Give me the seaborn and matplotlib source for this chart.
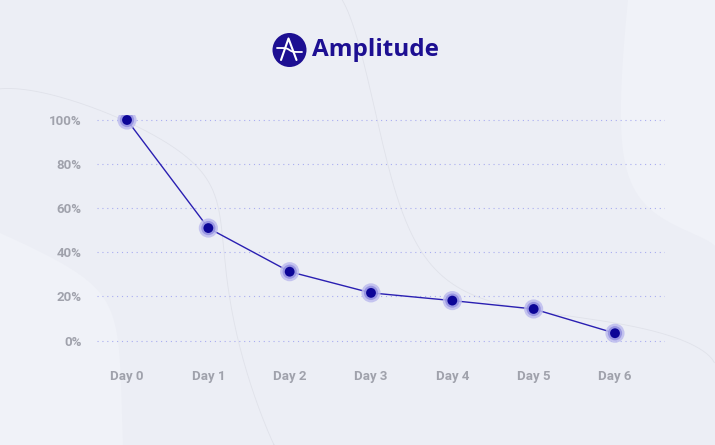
import numpy as np
import pandas as pd
import seaborn as sns
import matplotlib.pyplot as plt
from matplotlib.patches import Circle, Polygon

# retention values
days = ['Day 0', 'Day 1', 'Day 2', 'Day 3', 'Day 4', 'Day 5', 'Day 6']
retention = [100, 51, 31.2, 21.6, 18.1, 14.3, 3.3]
y_ticks = [0, 20, 40, 60, 80, 100]
y_labels = ['0%', '20%', '40%', '60%', '80%', '100%']

BG = '#eceef5'
LIGHT = '#f0f2f8'
NAVY = '#0c0597'
LINE = '#2a1fb2'
GRID = '#a9adf0'
LABEL = '#a0a2ac'
BRAND = '#1d0f92'


def smooth(xs, ys, n=200):
    # smooth curve through a few control points (background decoration only)
    xs, ys = np.asarray(xs, float), np.asarray(ys, float)
    u = np.linspace(0, 1, len(xs))
    uu = np.linspace(0, 1, n)
    cx = np.polyfit(u, xs, min(len(xs) - 1, 5))
    cy = np.polyfit(u, ys, min(len(ys) - 1, 5))
    return np.polyval(cx, uu), np.polyval(cy, uu)


sns.set_theme(style='white')
plt.rcParams['font.family'] = ['Roboto', 'DejaVu Sans']

df = pd.DataFrame({'day': np.arange(len(days)), 'retention': retention})

fig = plt.figure(figsize=(7.15, 4.45), dpi=100)
fig.patch.set_facecolor(BG)

# background decoration in pixel coordinates
bg = fig.add_axes([0, 0, 1, 1], zorder=0)
bg.set_xlim(0, 715)
bg.set_ylim(445, 0)
bg.axis('off')

# lighter lower-left corner
lx, ly = smooth([0, 68, 105, 119, 123], [233, 267, 300, 350, 445])
bg.add_patch(Polygon(np.column_stack([np.r_[0, lx, 0], np.r_[233, ly, 445]]),
                     closed=True, fc=LIGHT, ec='none'))
# lighter upper-right corner
rx, ry = smooth([628, 621, 626, 648, 685, 716], [0, 100, 167, 207, 230, 247])
bg.add_patch(Polygon(np.column_stack([np.r_[rx, 716], np.r_[ry, 0]]),
                     closed=True, fc=LIGHT, ec='none'))
# faint thin curves
ax1, ay1 = smooth([0, 91, 183, 205, 224, 237, 256, 274], [90, 103, 157, 187, 233, 333, 400, 445])
bg.plot(ax1, ay1, color='#e0e2ea', lw=0.6)
cx2, cy2 = smooth([342, 365, 388, 411, 457, 502, 594, 662, 715],
                  [0, 67, 167, 233, 283, 307, 320, 333, 363])
bg.plot(cx2, cy2, color='#e0e2ea', lw=0.6)

# logo
bg.add_patch(Circle((289.5, 50), 17, fc=BRAND, ec='none'))
bg.plot([281, 288.5, 296.5], [60, 38.5, 60], color='white', lw=1.5, solid_capstyle='round')
wx = np.linspace(277, 302, 40)
wy = 50 + 2.0 * np.tanh((wx - 289.5) / 3)
bg.plot(wx, wy, color='white', lw=1.3)
bg.text(312, 50, 'Amplitude', fontsize=17.5, fontweight='bold', color=BRAND,
        ha='left', va='center', family=['Open Sans', 'DejaVu Sans'])

# chart
ax = fig.add_axes([97 / 715, 1 - 345 / 445, (665 - 97) / 715, 230 / 445], zorder=1)
ax.set_facecolor('none')
sns.lineplot(data=df, x='day', y='retention', ax=ax, color=LINE, lw=1.0, zorder=3)
sns.scatterplot(data=df, x='day', y='retention', ax=ax, s=190, color='#bdbcee',
                alpha=0.85, edgecolor='none', zorder=4)
sns.scatterplot(data=df, x='day', y='retention', ax=ax, s=105, color='#8b88de',
                alpha=0.75, edgecolor='none', zorder=5)
sns.scatterplot(data=df, x='day', y='retention', ax=ax, s=50, color=NAVY,
                edgecolor='none', zorder=6)

ax.set_xlim(-0.369, 6.615)
ax.set_ylim(-2.04, 102.27)
ax.set_xticks(range(len(days)), days)
ax.set_yticks(y_ticks, y_labels)
ax.set_xlabel('')
ax.set_ylabel('')
for s in ax.spines.values():
    s.set_visible(False)
ax.yaxis.grid(True, color=GRID, lw=0.8, linestyle=(0, (1.0, 3.4)))
ax.xaxis.grid(False)
ax.tick_params(axis='both', length=0, labelcolor=LABEL, labelsize=9.5)
ax.tick_params(axis='y', pad=11)
ax.tick_params(axis='x', pad=18)
for lab in ax.get_xticklabels() + ax.get_yticklabels():
    lab.set_fontweight('bold')

fig.savefig('out.png', dpi=100, facecolor=fig.get_facecolor())
